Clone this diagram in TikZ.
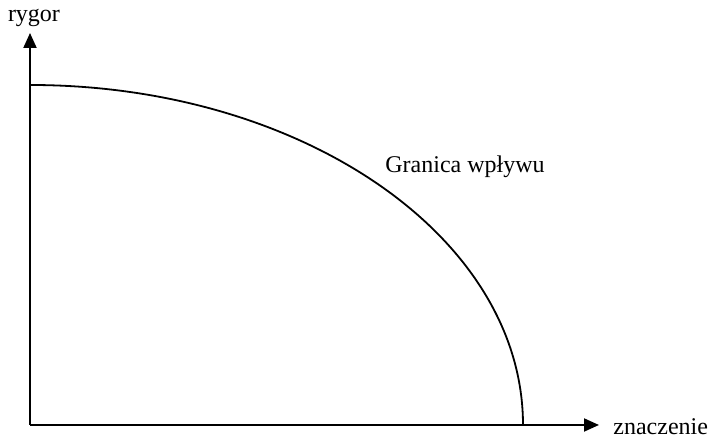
\documentclass[tikz,border=0pt]{standalone}
\usepackage{fontspec}
\setmainfont{Liberation Serif}
\usetikzlibrary{arrows.meta}
\begin{document}
\begin{tikzpicture}[x=0.5pt,y=0.5pt,
  axis/.style={line width=1pt,-{Triangle[length=7.5pt,width=6.5pt]}},
  curve/.style={line width=0.9pt},
  lbl/.style={inner sep=0pt,font=\fontsize{12}{14}\selectfont}]
\useasboundingbox (0,0) rectangle (708,437);
\coordinate (O) at (30,12);
\coordinate (ytip) at (30,404);
\coordinate (xtip) at (599,12);
\coordinate (ctop) at (30,352);
\draw[axis] (O) -- (ytip);
\draw[axis] (O) -- (xtip);
\draw[curve] (ctop) arc[start angle=90,end angle=0,x radius=246.5pt,y radius=170pt];
\node[lbl,anchor=base] (rygor) at (34,415) {rygor};
\node[lbl,anchor=base west] (znaczenie) at (613,2.5) {znaczenie};
\node[lbl,anchor=base west] (granica) at (385,264) {Granica wpływu};
\end{tikzpicture}
\end{document}
